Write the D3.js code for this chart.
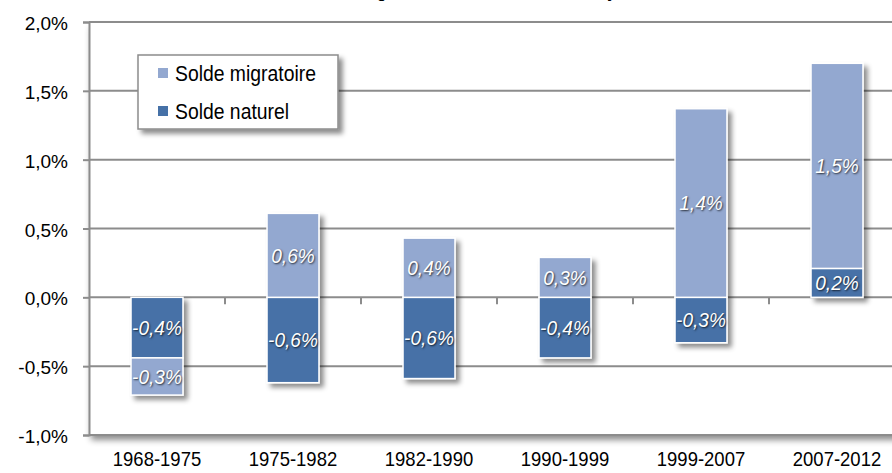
<!DOCTYPE html>
<html><head><meta charset="utf-8">
<script src="https://cdn.jsdelivr.net/npm/d3@7"></script>
<style>
html,body{margin:0;padding:0;background:#fff;overflow:hidden}
svg{display:block;font-family:"Liberation Sans",Arial,sans-serif}
</style></head>
<body>
<svg id="chart" width="892" height="473"></svg>
<script>
const categories = ["1968-1975","1975-1982","1982-1990","1990-1999","1999-2007","2007-2012"];
const solNaturel = [-0.44,-0.62,-0.59,-0.44,-0.33,0.21];
const solMigratoire = [-0.27,0.61,0.43,0.29,1.37,1.49];
const yTicks = [-1,-0.5,0,0.5,1,1.5,2];
const seriesNames = ["Solde migratoire","Solde naturel"];
const titleText = "Origine de la variation annuelle moyenne";

const colors = {migratoire:"#93A8D0", naturel:"#4671A7"};
const grid = "#8C8C8C";

const svg = d3.select("#chart");
const L = 89, R = 905, T = 22, B = 435;

const defs = svg.append("defs");
function shadow(id, dx, dy, sd, op){
  const f = defs.append("filter").attr("id",id).attr("x","-30%").attr("y","-30%").attr("width","170%").attr("height","170%");
  f.append("feDropShadow").attr("dx",dx).attr("dy",dy).attr("stdDeviation",sd).attr("flood-color","#000").attr("flood-opacity",op);
}
shadow("barSh",4,4,2.5,0.45);
shadow("legSh",4,4,2.5,0.45);
shadow("plotSh",2,5,3,0.45);

// horizontally condense a text to a fraction of its natural width
function squeeze(sel, k){
  sel.each(function(){
    const w = this.getComputedTextLength();
    d3.select(this).attr("textLength", w*k).attr("lengthAdjust","spacingAndGlyphs");
  });
}

const fmt = v => d3.format(".1f")(v).replace(".",",").replace("−","-") + "%";

const x = d3.scaleBand().domain(categories).range([L,R]).paddingInner(0.618).paddingOuter(0.309);
const y = d3.scaleLinear().domain([-1,2]).range([B,T]);

// title (mostly cut off at top, as in the reference)
svg.append("text").attr("x",355).attr("y",-2).attr("font-size",15.2).attr("font-weight","bold")
  .attr("fill","#000").text(titleText);

// plot area
svg.append("rect").attr("x",L).attr("y",T).attr("width",R-L).attr("height",B-T)
  .attr("fill","#fff").attr("filter","url(#plotSh)");

// gridlines
svg.append("g").selectAll("line").data(yTicks).join("line")
  .attr("x1",L).attr("x2",R).attr("y1",d=>y(d)).attr("y2",d=>y(d))
  .attr("stroke",grid).attr("stroke-width",2);

// left axis
const ya = svg.append("g").attr("transform",`translate(${L},0)`)
  .call(d3.axisLeft(y).tickValues(yTicks).tickSize(6).tickPadding(15).tickFormat(fmt));
ya.select(".domain").attr("stroke",grid).attr("stroke-width",2);
ya.selectAll(".tick line").attr("stroke",grid).attr("stroke-width",2);
ya.selectAll(".tick text").attr("font-size",19).attr("font-family","Liberation Sans, Arial, sans-serif")
  .attr("fill","#000").attr("dy","0.4em");

// zero axis with category boundary ticks
const step = x.step();
const bounds = categories.slice(1).map(c => x(c) - (step - x.bandwidth())/2);
svg.append("g").selectAll("line").data(bounds).join("line")
  .attr("x1",d=>d).attr("x2",d=>d).attr("y1",y(0)).attr("y2",y(0)+7)
  .attr("stroke",grid).attr("stroke-width",2);

// stacked bars
const rows = categories.map((c,i)=>({cat:c, naturel:solNaturel[i], migratoire:solMigratoire[i]}));
const stack = d3.stack().keys(["naturel","migratoire"]).offset(d3.stackOffsetDiverging);
const series = stack(rows);

const barG = svg.append("g").selectAll("g").data(categories).join("g").attr("filter","url(#barSh)");
series.forEach(s=>{
  barG.each(function(c,i){
    const d = s[i];
    d3.select(this).append("rect")
      .attr("x",x(c)).attr("width",x.bandwidth())
      .attr("y",y(Math.max(d[0],d[1]))).attr("height",Math.abs(y(d[0])-y(d[1])))
      .attr("fill",colors[s.key]).attr("stroke","#fff").attr("stroke-width",1.5);
  });
});

// data labels
const labG = svg.append("g");
series.forEach(s=>{
  s.forEach((d,i)=>{
    const c = categories[i];
    const v = d.data[s.key];
    labG.append("text")
      .attr("x",x(c)+x.bandwidth()/2).attr("y",y((d[0]+d[1])/2))
      .attr("dy","0.36em").attr("text-anchor","middle")
      .attr("font-size",20.5).attr("font-style","italic").attr("fill","#fff")
      .style("text-shadow","1px 1px 2px rgba(0,0,0,0.75)")
      .text(fmt(v));
  });
});
squeeze(labG.selectAll("text"), 0.93);

// x labels
const xa = svg.append("g").attr("transform",`translate(0,${B})`)
  .call(d3.axisBottom(x).tickSize(0).tickPadding(16));
xa.select(".domain").remove();
xa.selectAll(".tick text").attr("font-size",21).attr("font-family","Liberation Sans, Arial, sans-serif")
  .attr("fill","#000").attr("dy","0.71em");
squeeze(xa.selectAll(".tick text"), 0.88);

// legend
const lg = svg.append("g");
lg.append("rect").attr("x",138).attr("y",55).attr("width",200).attr("height",74)
  .attr("fill","#fff").attr("stroke",grid).attr("stroke-width",1.5).attr("filter","url(#legSh)");
const legColors = [colors.migratoire, colors.naturel];
seriesNames.forEach((n,i)=>{
  const cy = 73 + i*38;
  lg.append("rect").attr("x",158).attr("y",cy-5).attr("width",10).attr("height",10).attr("fill",legColors[i]);
  lg.append("text").attr("class","legtxt").attr("x",175).attr("y",cy).attr("dy","0.35em")
    .attr("font-size",21.5).attr("fill","#000").text(n);
});
squeeze(lg.selectAll(".legtxt"), 0.9);
</script>
</body></html>
